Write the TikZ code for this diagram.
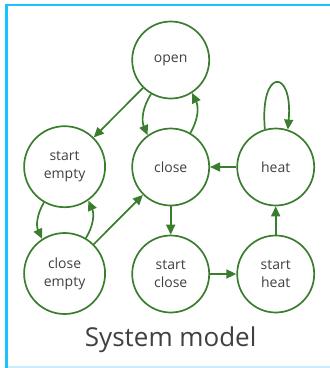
\documentclass[tikz,border=0pt]{standalone}
\usepackage{fontspec}
\setmainfont{Open Sans}
\usetikzlibrary{arrows.meta}

\definecolor{stategreen}{HTML}{3B7D2E}
\definecolor{framecyan}{HTML}{1AC2FE}
\definecolor{framepale}{HTML}{C6EEFC}
\definecolor{labelgray}{HTML}{404040}

\tikzset{
  state/.style={draw=stategreen,line width=1.7pt,circle,minimum size=77pt,
    inner sep=0pt,align=center,text=labelgray,font=\fontsize{14}{18}\selectfont},
  bigstate/.style={state,minimum size=81pt},
  trans/.style={draw=stategreen,line width=1.7pt,
    -{Triangle[length=10pt,width=9pt]}},
}

\begin{document}
\begin{tikzpicture}[x=1pt,y=-1pt]
\useasboundingbox (0,0) rectangle (330,368);

% frame
\draw[framecyan,line width=3pt] (6.5,368) -- (6.5,5);
\draw[framecyan,line width=2.5pt] (5,5) -- (330,5);
\draw[framepale,line width=1.5pt] (8,367) -- (330,367);

% states
\node[state] (open) at (170.7,60) {open};
\node[bigstate] (startempty) at (64.6,166.7) {start\\empty};
\node[state] (close) at (170.7,167) {close};
\node[state] (heat) at (275.7,167) {heat};
\node[bigstate] (closeempty) at (64.6,273.5) {close\\empty};
\node[state] (startclose) at (170.7,274) {start\\close};
\node[state] (startheat) at (275.7,274) {start\\heat};

\node[font=\fontsize{26}{30}\selectfont,text=labelgray] (title) at (170.7,340) {System model};

% transitions
\draw[trans] (open) -- (startempty);
\draw[trans] (open.240) to[bend right=28] (close.126);
\draw[trans] (close.60) to[bend right=28] (open.-57);
\draw[trans] (startempty.240) to[bend right=28] (closeempty.123);
\draw[trans] (closeempty.59) to[bend right=28] (startempty.-55);
\draw[trans] (closeempty) -- (close);
\draw[trans] (heat) -- (close);
\draw[trans] (close) -- (startclose);
\draw[trans] (startclose) -- (startheat);
\draw[trans] (startheat) -- (heat);
\draw[trans] (heat.106) .. controls +(95:62pt) and +(85:62pt) .. (heat.72);

\end{tikzpicture}
\end{document}
